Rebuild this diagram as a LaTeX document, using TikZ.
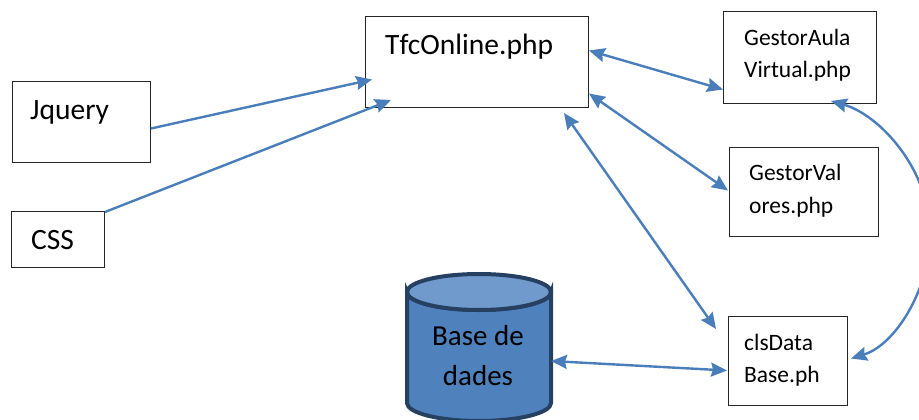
\documentclass[tikz,border=0pt]{standalone}
\usepackage{fontspec}
\setmainfont{Carlito}
\usetikzlibrary{arrows.meta}
\definecolor{lnk}{HTML}{4A7EBB}
\definecolor{cylf}{HTML}{4F81BD}
\definecolor{cylt}{HTML}{7099CC}
\definecolor{cyld}{HTML}{254061}
\tikzset{
 box/.style={draw=black!85,line width=1pt,fill=white,inner sep=0pt,anchor=north west},
 lab/.style={anchor=west,inner sep=0pt,font=\fontsize{#1}{#1}\selectfont},
 con/.style={draw=lnk,line width=2.4pt,-{Stealth[length=16pt,width=14pt,inset=2pt]}},
 bicon/.style={draw=lnk,line width=2.4pt,{Stealth[length=16pt,width=14pt,inset=2pt]}-{Stealth[length=16pt,width=14pt,inset=2pt]}},
}
\begin{document}
\begin{tikzpicture}[x=1pt,y=-1pt]
\useasboundingbox (0,0) rectangle (919,420);
\node[box,minimum width=138pt,minimum height=81pt] (jq) at (12,81) {};
\node[lab=29.5] (jqt) at (30,112) {Jquery};
\node[box,minimum width=93pt,minimum height=56pt] (css) at (11,211) {};
\node[lab=29.5] (csst) at (31,240) {CSS};
\node[box,minimum width=223pt,minimum height=91pt] (tfc) at (365,16) {};
\node[lab=29.5] (tfct) at (385,47) {TfcOnline.php};
\node[box,minimum width=153pt,minimum height=92pt] (ga) at (723,11) {};
\node[lab=23.5] (ga1) at (744,37) {GestorAula};
\node[lab=23.5] (ga2) at (744,71) {Virtual.php};
\node[box,minimum width=149pt,minimum height=89pt] (gv) at (729,147) {};
\node[lab=23.5] (gv1) at (749,172) {GestorVal};
\node[lab=23.5] (gv2) at (749,207) {ores.php};
\node[box,minimum width=119pt,minimum height=89pt] (db) at (728,316) {};
\node[lab=23.5] (db1) at (744,342) {clsData};
\node[lab=23.5] (db2) at (744,376) {Base.ph};
% cylinder
\path[fill=cylf,draw=cyld,line width=4pt] (407,292) -- (407,403) arc[start angle=180,end angle=360,x radius=72,y radius=-18] -- (551,292) arc[start angle=0,end angle=180,x radius=72,y radius=18] -- cycle;
\path[fill=cylt,draw=cyld,line width=4pt] (479,292) ellipse[x radius=72,y radius=18];
\coordinate (cyl) at (551,361);
\node[anchor=center,inner sep=0pt,font=\fontsize{29}{29}\selectfont] (cyt1) at (478,336) {Base de};
\node[anchor=center,inner sep=0pt,font=\fontsize{29}{29}\selectfont] (cyt2) at (478,376) {dades};
% connectors
\draw[con] ([yshift=-6.5pt]jq.east) -- ([xshift=7pt,yshift=-17.5pt]tfc.west);
\draw[con] ([yshift=-1pt]css.north east) -- ([xshift=26pt,yshift=8pt]tfc.south west);
\draw[bicon] ([yshift=11.5pt]tfc.east) -- ([yshift=-32pt]ga.west);
\draw[bicon] ([yshift=-31.5pt]tfc.east) -- ([xshift=-1pt,yshift=1.5pt]gv.west);
\draw[bicon] ([xshift=-25pt,yshift=-5pt]tfc.south east) -- ([xshift=-12pt,yshift=-13pt]db.north west);
\draw[bicon] (cyl) -- ([xshift=-1pt,yshift=-9.5pt]db.west);
\draw[bicon] ([xshift=-46pt,yshift=3pt]ga.south east) .. controls (880,115) and (930,170) .. (930,233) .. controls (930,290) and (895,345) .. ([xshift=3pt,yshift=2.5pt]db.east);
\end{tikzpicture}
\end{document}
